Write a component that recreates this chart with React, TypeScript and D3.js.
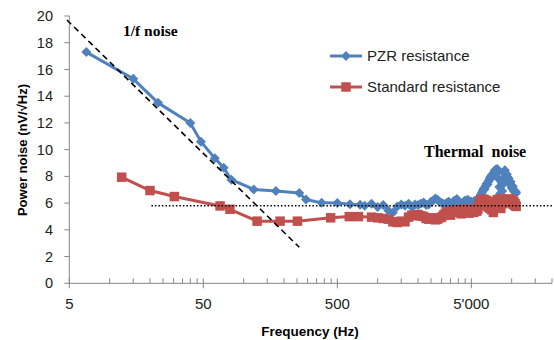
import { useEffect, useRef } from 'react';
import * as d3 from 'd3';

const WIDTH = 554;
const HEIGHT = 340;

// PZR resistance (blue, diamonds)
const pzrFreq = [
  6.7, 15, 23, 40, 48, 61, 71, 81, 119, 174, 260, 292, 382, 500, 622, 739,
  800, 900, 1000, 1100, 1200, 1300, 1400, 1500, 1600, 1700, 1800, 1900, 2000,
  2100, 2200, 2300, 2400, 2500, 2600, 2700, 2800, 2900, 3000,
  3100, 3200, 3300, 3400, 3500, 3600, 3700, 3800, 3900, 4000,
  4100, 4200, 4300, 4400, 4500, 4600, 4700, 4800, 4900, 5000,
  5100, 5200, 5300, 5400, 5500, 5600, 5700, 5800, 5900, 6000,
  6100, 6200, 6300, 6400, 6500, 6600, 6700, 6800, 6900, 7000,
  7100, 7200, 7300, 7400, 7500, 7600, 7700, 7800, 7900, 8000,
  8100, 8200, 8300, 8400, 8500, 8600, 8700, 8800, 8900, 9000,
  9100, 9200, 9300, 9400, 9500, 9600, 9700, 9800, 9900, 10000,
  10100, 10200, 10300, 10400, 10500, 10600, 10700, 10800,
];
const pzrNoise = [
  17.3, 15.3, 13.5, 12.0, 10.6, 9.35, 8.65, 7.75, 7.02, 6.9, 6.75, 6.27, 6.02, 6.0, 5.92, 5.87,
  5.8, 5.95, 5.7, 5.85, 5.45, 5.3, 5.75, 5.9, 5.8, 5.95, 5.7, 5.9, 5.85,
  5.95, 6.05, 5.85, 5.9, 6.1, 6.2, 6.35, 6.25, 6.1, 6.0,
  5.95, 5.9, 6.05, 6.1, 5.85, 5.95, 6.15, 6.2, 6.3, 6.1,
  6.05, 5.95, 6.0, 6.1, 6.2, 6.05, 6.25, 6.15, 6.05, 6.1,
  6.0, 6.1, 6.15, 6.05, 6.2, 6.3, 6.4, 6.5, 6.65, 6.8,
  6.95, 7.1, 7.05, 7.3, 7.45, 7.4, 7.6, 7.75, 7.9, 8.0,
  8.1, 8.0, 8.2, 8.3, 8.45, 8.5, 8.4, 8.55, 8.3, 7.8,
  7.2, 6.7, 6.45, 6.5, 6.9, 7.4, 7.9, 8.3, 8.45, 8.2,
  8.1, 8.15, 7.95, 7.8, 7.85, 7.6, 7.5, 7.6, 7.35, 7.2,
  7.1, 7.25, 7.0, 6.9, 6.95, 6.8, 6.85, 6.75,
];

// Standard resistance (red, squares)
const stdFreq = [
  12.3, 20, 30.4, 66.7, 79, 126, 187, 252, 446, 614, 718,
  900, 1000, 1100, 1200, 1300, 1400, 1500, 1600, 1700, 1800, 1900, 2000,
  2100, 2200, 2300, 2400, 2500, 2600, 2700, 2800, 2900, 3000,
  3100, 3200, 3300, 3400, 3500, 3600, 3700, 3800, 3900, 4000,
  4100, 4200, 4300, 4400, 4500, 4600, 4700, 4800, 4900, 5000,
  5100, 5200, 5300, 5400, 5500, 5600, 5700, 5800, 5900, 6000,
  6100, 6200, 6300, 6400, 6500, 6600, 6700, 6800, 6900, 7000,
  7100, 7200, 7300, 7400, 7500, 7600, 7700, 7800, 7900, 8000,
  8100, 8200, 8300, 8400, 8500, 8600, 8700, 8800, 8900, 9000,
  9100, 9200, 9300, 9400, 9500, 9600, 9700, 9800, 9900, 10000,
  10100, 10200, 10300, 10400, 10500, 10600, 10700, 10800,
];
const stdNoise = [
  7.94, 6.94, 6.49, 5.79, 5.54, 4.65, 4.65, 4.65, 4.9, 4.99, 4.99,
  4.95, 4.9, 4.85, 4.8, 4.6, 4.55, 4.65, 4.6, 4.95, 5.1, 5.05, 5.15,
  5.05, 5.0, 4.85, 4.8, 4.9, 4.85, 4.75, 4.8, 4.9, 4.95,
  5.1, 5.25, 5.35, 5.2, 5.1, 5.45, 5.3, 5.4, 5.5, 5.35,
  5.5, 5.2, 5.45, 5.3, 5.55, 5.4, 5.5, 5.25, 5.45, 5.4,
  5.5, 5.3, 5.45, 5.6, 5.4, 5.55, 5.9, 6.05, 6.25, 6.15,
  6.0, 6.3, 6.2, 5.8, 6.2, 6.1, 5.7, 5.75, 5.6, 5.65,
  5.5, 5.75, 5.3, 5.6, 5.7, 5.9, 6.1, 6.25, 6.2, 5.9,
  6.3, 6.15, 5.6, 6.2, 6.3, 5.95, 6.25, 6.2, 6.25, 6.1,
  6.2, 6.3, 6.15, 6.25, 6.05, 6.2, 6.3, 6.1, 6.25, 6.15,
  6.2, 6.0, 5.9, 6.1, 5.85, 5.95, 5.8, 5.75,
];

// 1/f guide line and thermal noise floor
const oneOverF = [[4.8, 19.7], [260, 2.7]];
const thermal = [[20.5, 5.8], [20000, 5.8]];

const majorTicks = [5, 50, 500, 5000];
const minorSteps = [2, 3, 4, 5, 6, 7, 8, 9];
const yTicks = [0, 2, 4, 6, 8, 10, 12, 14, 16, 18, 20];

const BLUE = '#4F81BD';
const RED = '#C0504D';
const AXIS = '#868686';
const SANS = '"Liberation Sans", Arial, sans-serif';
const SERIF = '"Liberation Serif", "Times New Roman", serif';

const fmt = d3.formatLocale({ decimal: '.', thousands: "'", grouping: [3], currency: ['', ''] }).format(',');

export default function App() {
  const svgRef = useRef<SVGSVGElement>(null);

  useEffect(() => {
    if (!svgRef.current) return;
    const svg = d3.select(svgRef.current);
    svg.selectAll('*').remove();

    const x = d3.scaleLog().domain([5, 20000]).range([69.3, 552]);
    const y = d3.scaleLinear().domain([0, 20]).range([283.3, 16]);

    // y axis
    svg.append('line')
      .attr('x1', x(5)).attr('x2', x(5))
      .attr('y1', y(0)).attr('y2', y(20))
      .attr('stroke', AXIS);
    svg.selectAll('.ytick')
      .data(yTicks)
      .enter()
      .append('line')
      .attr('x1', x(5) - 5).attr('x2', x(5))
      .attr('y1', d => y(d)).attr('y2', d => y(d))
      .attr('stroke', AXIS);
    svg.selectAll('.ylabel')
      .data(yTicks)
      .enter()
      .append('text')
      .attr('x', 53)
      .attr('y', d => y(d))
      .attr('dy', '0.35em')
      .attr('text-anchor', 'end')
      .attr('font-family', SANS)
      .attr('font-size', 14.5)
      .attr('fill', '#222')
      .text(d => d);

    // x axis
    svg.append('line')
      .attr('x1', x(5)).attr('x2', x(20000))
      .attr('y1', y(0)).attr('y2', y(0))
      .attr('stroke', AXIS);
    const minor = majorTicks.flatMap(b => minorSteps.map(k => b * k)).filter(v => v <= 20000);
    svg.selectAll('.xminor')
      .data(minor)
      .enter()
      .append('line')
      .attr('x1', d => x(d)).attr('x2', d => x(d))
      .attr('y1', y(0) - 5).attr('y2', y(0))
      .attr('stroke', AXIS);
    svg.selectAll('.xmajor')
      .data(majorTicks)
      .enter()
      .append('line')
      .attr('x1', d => x(d)).attr('x2', d => x(d))
      .attr('y1', y(0) - 5).attr('y2', y(0) + 5)
      .attr('stroke', AXIS);
    svg.selectAll('.xlabel')
      .data(majorTicks)
      .enter()
      .append('text')
      .attr('x', d => x(d))
      .attr('y', 309)
      .attr('text-anchor', 'middle')
      .attr('font-family', SANS)
      .attr('font-size', 15)
      .attr('fill', '#222')
      .text(d => fmt(d));

    // axis titles
    svg.append('text')
      .attr('x', 310).attr('y', 336)
      .attr('text-anchor', 'middle')
      .attr('font-family', SANS)
      .attr('font-size', 13.5)
      .attr('font-weight', 700)
      .text('Frequency (Hz)');
    svg.append('text')
      .attr('transform', 'translate(27,150) rotate(-90)')
      .attr('text-anchor', 'middle')
      .attr('font-family', SANS)
      .attr('font-size', 13)
      .attr('font-weight', 700)
      .text('Power noise (nV/√Hz)');

    const series = [
      { freq: pzrFreq, noise: pzrNoise, color: BLUE, symbol: 'diamond' },
      { freq: stdFreq, noise: stdNoise, color: RED, symbol: 'square' },
    ];

    const diamond = d3.symbol().type(d3.symbolSquare).size(50)();
    const square = d3.symbol().type(d3.symbolSquare).size(90)();

    series.forEach(s => {
      const pts = s.freq.map((f, i) => [f, s.noise[i]] as [number, number]);
      const path = d3.line<[number, number]>()
        .x(d => x(d[0]))
        .y(d => y(d[1]));
      svg.append('path')
        .attr('d', path(pts))
        .attr('fill', 'none')
        .attr('stroke', s.color)
        .attr('stroke-width', 3)
        .attr('stroke-linejoin', 'round');
      svg.append('g')
        .selectAll('path')
        .data(pts)
        .enter()
        .append('path')
        .attr('d', s.symbol === 'diamond' ? diamond : square)
        .attr('transform', d => `translate(${x(d[0])},${y(d[1])})${s.symbol === 'diamond' ? ' rotate(45)' : ''}`)
        .attr('fill', s.color);
    });

    // guide lines
    const guide = d3.line<number[]>()
      .x(d => x(d[0]))
      .y(d => y(d[1]));
    svg.append('path')
      .attr('d', guide(oneOverF))
      .attr('fill', 'none')
      .attr('stroke', '#000')
      .attr('stroke-width', 1.6)
      .attr('stroke-dasharray', '6,4');
    svg.append('path')
      .attr('d', guide(thermal))
      .attr('fill', 'none')
      .attr('stroke', '#000')
      .attr('stroke-width', 1.5)
      .attr('stroke-dasharray', '1.5,2');

    // annotations
    svg.append('text')
      .attr('x', 123).attr('y', 36)
      .attr('font-family', SERIF)
      .attr('font-size', 15.5)
      .attr('font-weight', 700)
      .text('1/f noise');
    svg.append('text')
      .attr('x', 424).attr('y', 157)
      .attr('font-family', SERIF)
      .attr('font-size', 16)
      .attr('font-weight', 700)
      .attr('xml:space', 'preserve')
      .style('white-space', 'pre')
      .text('Thermal  noise');

    // legend
    const legend = [
      { label: 'PZR resistance', color: BLUE, symbol: 'diamond', y: 56 },
      { label: 'Standard resistance', color: RED, symbol: 'square', y: 87 },
    ];
    legend.forEach(l => {
      svg.append('line')
        .attr('x1', 330).attr('x2', 362)
        .attr('y1', l.y).attr('y2', l.y)
        .attr('stroke', l.color)
        .attr('stroke-width', 3);
      svg.append('path')
        .attr('d', l.symbol === 'diamond' ? diamond : square)
        .attr('transform', `translate(346,${l.y})${l.symbol === 'diamond' ? ' rotate(45)' : ''}`)
        .attr('fill', l.color);
      svg.append('text')
        .attr('x', 367).attr('y', l.y)
        .attr('dy', '0.35em')
        .attr('font-family', SANS)
        .attr('font-size', 15)
        .attr('fill', '#222')
        .text(l.label);
    });
  }, []);

  return (
    <>
      <style>{'body{margin:0;background:#fff}'}</style>
      <svg ref={svgRef} width={WIDTH} height={HEIGHT} style={{ display: 'block', background: '#fff' }} />
    </>
  );
}
